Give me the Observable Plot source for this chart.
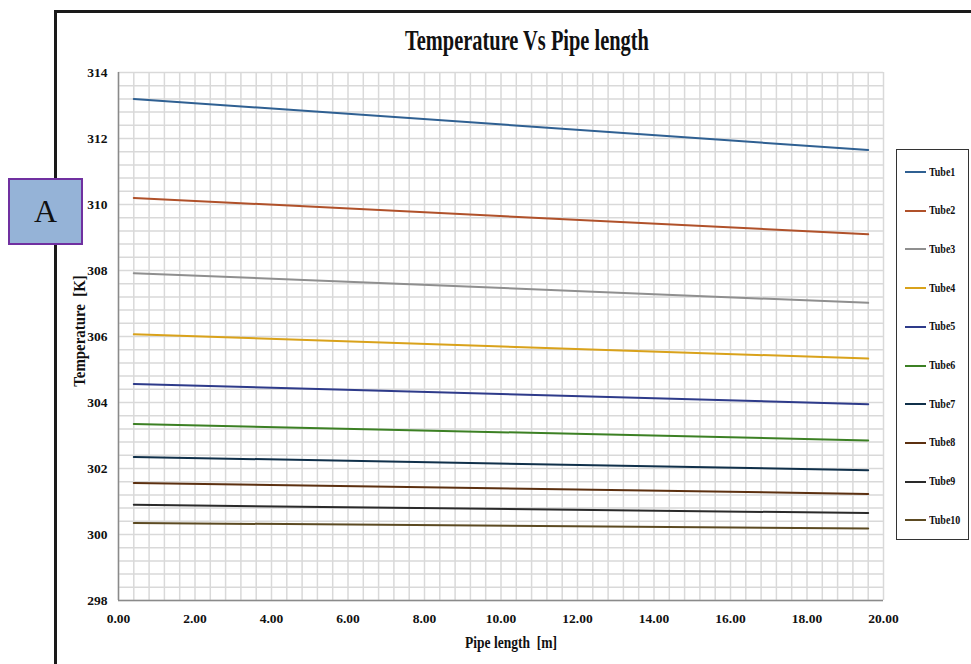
<!DOCTYPE html>
<html>
<head>
<meta charset="utf-8">
<script src="https://cdn.jsdelivr.net/npm/d3@7"></script>
<script src="https://cdn.jsdelivr.net/npm/@observablehq/plot@0.6"></script>
<style>
  html, body { margin: 0; padding: 0; background: #fff; }
  #wrap { position: relative; width: 971px; height: 664px; overflow: hidden; font-family: "Liberation Serif", "Times New Roman", serif; }
  #frameTop { position: absolute; left: 54px; top: 10px; width: 920px; height: 3px; background: #1a1a1a; }
  #frameLeft { position: absolute; left: 54px; top: 10px; width: 3px; height: 660px; background: #1a1a1a; }
  #chart { position: absolute; left: 0; top: 0; }
  #title { position: absolute; left: 527px; top: 23px; font-weight: bold; font-size: 30px; white-space: nowrap; transform: translateX(-50%) scaleX(0.68); transform-origin: center; color: #111; }
  #ylab { position: absolute; left: 80px; top: 331px; font-weight: bold; font-size: 16.5px; white-space: pre; transform: translate(-50%, -50%) rotate(-90deg) scaleX(0.9); color: #111; }
  #xlab { position: absolute; left: 511px; top: 633px; font-weight: bold; font-size: 16.5px; white-space: pre; transform: translateX(-50%) scaleX(0.82); color: #111; }
  #abox { position: absolute; left: 8px; top: 178px; width: 71px; height: 63px; background: #95b3d7; border: 2px solid #7030a0; display: flex; align-items: center; justify-content: center; font-size: 32px; color: #111; font-family: "Liberation Serif", serif; }
  #legend { position: absolute; left: 896px; top: 149px; width: 71px; height: 389px; border: 1.5px solid #333; background: #fff; }
  .li { position: absolute; left: 8px; height: 14px; display: flex; align-items: center; }
  .sw { width: 21px; height: 2px; margin-right: 3px; }
  .lt { font-weight: bold; font-size: 12.5px; transform: scaleX(0.8); transform-origin: left center; white-space: nowrap; color: #111; }
</style>
</head>
<body>
<div id="wrap">
  <div id="frameTop"></div>
  <div id="frameLeft"></div>
  <div id="chart"></div>
  <div id="title"></div>
  <div id="ylab"></div>
  <div id="xlab"></div>
  <div id="abox"></div>
  <div id="legend"></div>
</div>
<script>
const titleText = "Temperature Vs Pipe length";
const yLabelText = "Temperature  [K]";
const xLabelText = "Pipe length  [m]";
const panelLetter = "A";

const tubeNames = ["Tube1","Tube2","Tube3","Tube4","Tube5","Tube6","Tube7","Tube8","Tube9","Tube10"];
const tubeColors = ["#2f6092","#b0512a","#8f8f8f","#d9a21b","#2e3b8a","#3c8024","#10304a","#5c3010","#2a2a2a","#5c4a22"];
const pipeLengths = [0.4, 19.6];
const tempStart = [313.2, 310.2, 307.92, 306.07, 304.56, 303.35, 302.35, 301.56, 300.9, 300.35];
const tempEnd   = [311.65, 309.1, 307.02, 305.33, 303.95, 302.85, 301.95, 301.23, 300.65, 300.18];
const xTicks = [0,2,4,6,8,10,12,14,16,18,20];
const yTicks = [298,300,302,304,306,308,310,312,314];

const rows = tubeNames.flatMap((name, i) => [
  {tube: name, length: pipeLengths[0], temp: tempStart[i]},
  {tube: name, length: pipeLengths[1], temp: tempEnd[i]}
]);

const xGrid = d3.range(0, 51).map(i => i * 0.4);
const yGrid = d3.range(0, 41).map(i => 298 + i * 0.4);

const chart = Plot.plot({
  width: 971,
  height: 664,
  marginLeft: 118,
  marginRight: 88,
  marginTop: 72,
  marginBottom: 64,
  x: {domain: [0, 20]},
  y: {domain: [298, 314]},
  color: {domain: tubeNames, range: tubeColors},
  style: {fontFamily: "'Liberation Serif', serif", fontWeight: "bold", fontSize: "13.5px", color: "#111", background: "transparent"},
  marks: [
    Plot.gridX(xGrid, {stroke: "#d9d9d9", strokeOpacity: 1, strokeWidth: 1.5}),
    Plot.gridY(yGrid, {stroke: "#d9d9d9", strokeOpacity: 1, strokeWidth: 1.5}),
    Plot.axisX(xTicks, {tickSize: 0, tickPadding: 13, tickFormat: d => d.toFixed(2), label: null}),
    Plot.axisY(yTicks, {tickSize: 0, tickPadding: 11, label: null}),
    Plot.ruleX([0], {stroke: "#8a8a8a", strokeWidth: 1.5}),
    Plot.ruleY([298], {stroke: "#8a8a8a", strokeWidth: 1.5}),
    Plot.line(rows, {x: "length", y: "temp", z: "tube", stroke: "tube", strokeWidth: 2})
  ]
});
document.getElementById("chart").appendChild(chart);

document.getElementById("title").textContent = titleText;
document.getElementById("ylab").textContent = yLabelText;
document.getElementById("xlab").textContent = xLabelText;
document.getElementById("abox").textContent = panelLetter;

const legend = document.getElementById("legend");
tubeNames.forEach((name, i) => {
  const item = document.createElement("div");
  item.className = "li";
  item.style.top = (15 + i * 38.7) + "px";
  const sw = document.createElement("div");
  sw.className = "sw";
  sw.style.background = tubeColors[i];
  const t = document.createElement("span");
  t.className = "lt";
  t.textContent = name;
  item.appendChild(sw);
  item.appendChild(t);
  legend.appendChild(item);
});
</script>
</body>
</html>
